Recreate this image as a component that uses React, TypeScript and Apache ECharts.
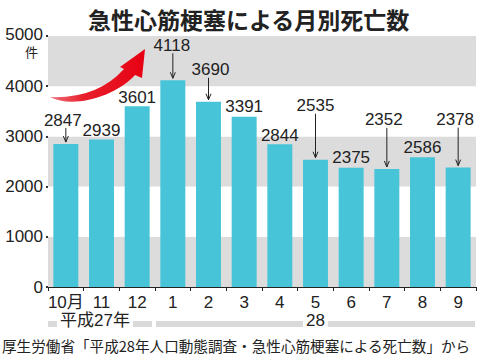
import React, { useEffect, useRef } from "react";
import * as echarts from "echarts";

const months = ["10月", "11", "12", "1", "2", "3", "4", "5", "6", "7", "8", "9"];
const deaths = [2847, 2939, 3601, 4118, 3690, 3391, 2844, 2535, 2375, 2352, 2586, 2378];
const yTicks = [0, 1000, 2000, 3000, 4000, 5000];
const yUnit = "件";
const yearLabels = ["平成27年", "28"];
const yearFrom = [0, 3];
const yearTo = [2, 11];

// label placement (px above bar top), horizontal shift, and whether an arrow is drawn
const labelLift = [24, 9, 9, 35, 32, 10, 9, 54, 10, 49, 10, 48];
const labelShift = [-3, 0, 0, -1, 2, 0, 0, 0, 0, -3, 0, -3];
const hasArrow = [true, false, false, true, true, false, false, true, false, true, false, true];

const FONT = "'Liberation Sans', Arial, 'Noto Sans CJK JP', sans-serif";
const CJK = "'Noto Sans CJK JP', 'Liberation Sans', sans-serif";

const arrowD =
  "M50 97 Q97 99 124 69 L120 67 L145 49 L142 78 L135 75 C115 97 72 109 50 97 Z";
try {
  echarts.graphic.registerShape("redArrow", echarts.graphic.extendPath(arrowD, {}) as any);
} catch (e) {}

export default function App() {
  const ref = useRef<HTMLDivElement>(null);
  useEffect(() => {
    const chart = echarts.init(ref.current!, null, { renderer: "svg" });
    const maxTick = yTicks[yTicks.length - 1];
    const option: any = {
      animation: false,
      title: {
        text: "急性心筋梗塞による月別死亡数",
        left: 83,
        top: 2,
        textStyle: { fontFamily: CJK, fontSize: 23, fontWeight: "bold", color: "#222" },
      },
      grid: { left: 48, right: 4, top: 36, bottom: 68 },
      xAxis: {
        type: "category",
        data: months,
        axisLine: { lineStyle: { color: "#222", width: 1 } },
        axisTick: { show: true, length: 4, lineStyle: { color: "#222" } },
        axisLabel: { interval: 0, fontFamily: FONT, fontSize: 17, color: "#222", margin: 7 },
      },
      yAxis: {
        type: "value",
        min: 0,
        max: maxTick,
        interval: 1000,
        axisLine: { show: false },
        axisTick: { show: true, length: 2, lineStyle: { color: "#333", width: 2 } },
        axisLabel: {
          fontFamily: FONT,
          fontSize: 17,
          lineHeight: 14,
          color: "#222",
          margin: 5,
          formatter: (v: number) =>
            v === maxTick ? `{a|${v}}` : yTicks.includes(v) ? String(v) : "",
          rich: {
            a: {
              fontFamily: FONT,
              fontSize: 17,
              lineHeight: 12,
              color: "#222",
              padding: [0, 0, 4, 0],
            },
          },
        },
        splitLine: { show: false },
        splitArea: { show: true, areaStyle: { color: ["#dcdcdc", "#ffffff"] } },
      },
      graphic: [
        {
          type: "text",
          left: 25,
          top: 45,
          style: { text: yUnit, fontFamily: CJK, fontSize: 13, lineHeight: 13, fill: "#222" },
        },
        {
          type: "redArrow",
          z: 10,
          style: {
            fill: {
              type: "linear",
              x: 0,
              y: 0,
              x2: 1,
              y2: 0,
              colorStops: [
                { offset: 0, color: "#f0707a" },
                { offset: 0.35, color: "#e8202c" },
                { offset: 1, color: "#e60012" },
              ],
            },
          },
        },
        {
          type: "text",
          left: 2,
          top: 338,
          style: {
            text: "厚生労働省「平成28年人口動態調査・急性心筋梗塞による死亡数」から",
            fontFamily: "'Noto Sans CJK JP'",
            fontSize: 14.6,
            fill: "#222",
          },
        },
      ],
      series: [
        {
          type: "bar",
          data: deaths,
          barWidth: "70%",
          itemStyle: { color: "#48c4d9" },
          z: 2,
        },
        {
          type: "custom",
          clip: false,
          z: 5,
          data: deaths.map((v, i) => [i, v]),
          encode: { x: 0, y: 1 },
          renderItem: (params: any, api: any) => {
            const i = params.dataIndex;
            const pt = api.coord([api.value(0), api.value(1)]);
            const cx = pt[0];
            const top = pt[1];
            const ty = top - labelLift[i];
            const children: any[] = [
              {
                type: "text",
                style: {
                  text: String(deaths[i]),
                  x: cx + labelShift[i],
                  y: ty,
                  textAlign: "center",
                  textVerticalAlign: "middle",
                  fontFamily: FONT,
                  fontSize: 17,
                  fill: "#222",
                },
              },
            ];
            if (hasArrow[i]) {
              children.push(
                {
                  type: "line",
                  shape: { x1: cx, y1: ty + 8, x2: cx, y2: top - 2 },
                  style: { stroke: "#222", lineWidth: 1 },
                },
                {
                  type: "polyline",
                  shape: { points: [[cx - 2.5, top - 8], [cx, top - 2], [cx + 2.5, top - 8]] },
                  style: { stroke: "#222", fill: null, lineWidth: 1 },
                }
              );
            }
            return { type: "group", children };
          },
        },
        {
          type: "custom",
          clip: false,
          z: 5,
          data: yearLabels.map((l, k) => [yearFrom[k], yearTo[k]]),
          encode: { x: [0, 1] },
          renderItem: (params: any, api: any) => {
            const k = params.dataIndex;
            const bw = api.size([1, 0])[0];
            const base = api.coord([0, 0])[1];
            const x0 = api.coord([api.value(0), 0])[0] - bw / 2 + (k > 0 ? 1 : 0);
            const x1 = api.coord([api.value(1), 0])[0] + bw / 2 - (k === 0 ? 3 : 1);
            const y = base + 37;
            return {
              type: "group",
              children: [
                {
                  type: "rect",
                  shape: { x: x0, y: y - 3, width: x1 - x0, height: 6 },
                  style: { fill: "#d9d9d9" },
                },
                {
                  type: "text",
                  style: {
                    text: yearLabels[k],
                    x: (x0 + x1) / 2 - (k === 0 ? 5 : 0),
                    y: y - 4,
                    textAlign: "center",
                    textVerticalAlign: "middle",
                    fontFamily: FONT,
                    fontSize: 17,
                    fill: "#222",
                    backgroundColor: "#fff",
                    padding: [0, 3],
                  },
                },
              ],
            };
          },
        },
      ],
    };
    chart.setOption(option);
    return () => chart.dispose();
  }, []);
  return (
    <div
      ref={ref}
      style={{ position: "fixed", left: 0, top: 0, width: 480, height: 355, background: "#fff" }}
    />
  );
}
